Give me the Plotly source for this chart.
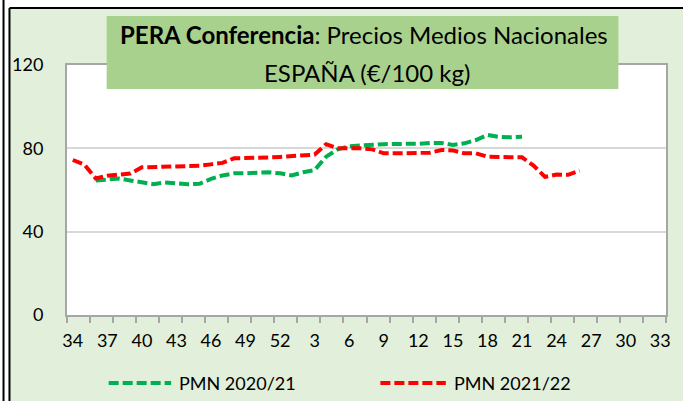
import plotly.graph_objects as go

# ---------------- data ----------------
weeks = ["34", "35", "36", "37", "38", "39", "40", "41", "42", "43", "44", "45", "46",
         "47", "48", "49", "50", "51", "52", "1", "2", "3", "4", "5", "6", "7", "8", "9",
         "10", "11", "12", "13", "14", "15", "16", "17", "18", "19", "20", "21", "22",
         "23", "24", "25", "26", "27", "28", "29", "30", "31", "32", "33"]

pmn_2020_21 = [None, None, 64.5, 65.1, 65.5, 64.6, 63.7, 62.8, 63.6, 63.2, 62.8, 63.0, 65.3,
               67.0, 68.0, 68.0, 68.3, 68.5, 68.0, 67.0, 68.5, 69.6, 76.0, 79.5, 81.0, 81.4,
               81.5, 82.0, 82.1, 82.1, 82.2, 82.6, 82.6, 81.6, 82.4, 84.0, 86.4, 85.5, 85.3,
               85.6, None, None, None, None, None, None, None, None, None, None, None, None]

pmn_2021_22 = [74.4, 72.2, 65.5, 66.8, 67.4, 67.9, 70.9, 71.1, 71.2, 71.3, 71.4, 71.6, 72.3,
               73.0, 75.2, 75.2, 75.4, 75.6, 75.9, 76.2, 76.4, 77.0, 82.0, 80.0, 80.0, 80.0,
               79.5, 77.6, 77.6, 77.6, 77.6, 77.9, 79.2, 79.0, 77.6, 77.6, 76.0, 75.7, 75.7,
               75.7, 71.7, 66.3, 67.4, 67.3, 69.3, None, None, None, None, None, None, None]

tick_labels = ["34", "37", "40", "43", "46", "49", "52", "3", "6", "9", "12", "15", "18",
               "21", "24", "27", "30", "33"]
y_ticks = [0, 40, 80, 120]

series_names = ["PMN 2020/21", "PMN 2021/22"]
series_colors = ["#00B050", "#FF0000"]
series_values = [pmn_2020_21, pmn_2021_22]

title_line1 = "<b>PERA Conferencia</b>: Precios Medios Nacionales"
title_line2 = "ESPAÑA (€/100 kg)"

# ---------------- layout helpers ----------------
W, H = 683, 401
L, R, T, B = 66, 13, 65, 86
PW = W - L - R
PH = H - T - B
FONT = "Lato"
DASH = "10px,4px"
LW = 4


def px(x):
    return (x - L) / PW


def py(y):
    return (H - B - y) / PH


x_idx = list(range(len(weeks)))
tickvals = [weeks.index(t) for t in tick_labels]

fig = go.Figure()
for name, color, vals in zip(series_names, series_colors, series_values):
    fig.add_trace(go.Scatter(x=x_idx, y=vals, mode="lines", name=name,
                             line=dict(color=color, width=LW, dash=DASH),
                             connectgaps=False, showlegend=False, hoverinfo="skip"))

shapes = [
    # white outer strips
    dict(type="rect", xref="paper", yref="paper", x0=px(-5), x1=px(8), y0=py(H + 5), y1=py(-5),
         fillcolor="white", line=dict(width=0), layer="below"),
    dict(type="rect", xref="paper", yref="paper", x0=px(-5), x1=px(W + 5), y0=py(8), y1=py(-5),
         fillcolor="white", line=dict(width=0), layer="below"),
    # borders
    dict(type="line", xref="paper", yref="paper", x0=px(2), x1=px(2), y0=py(H + 5), y1=py(-5),
         line=dict(color="black", width=2), layer="below"),
    dict(type="line", xref="paper", yref="paper", x0=px(8), x1=px(8), y0=py(H + 5), y1=py(8),
         line=dict(color="black", width=2), layer="below"),
    dict(type="line", xref="paper", yref="paper", x0=px(8), x1=px(W + 5), y0=py(8), y1=py(8),
         line=dict(color="black", width=2), layer="below"),
    # title box
    dict(type="rect", xref="paper", yref="paper", x0=px(106), x1=px(622), y0=py(89), y1=py(16),
         fillcolor="#A9D18E", line=dict(width=0), layer="above"),
]

annotations = [
    dict(xref="paper", yref="paper", x=px(365), y=py(35), text=title_line1, showarrow=False,
         xanchor="center", yanchor="middle", font=dict(family=FONT, size=24, color="black")),
    dict(xref="paper", yref="paper", x=px(368), y=py(72), text=title_line2, showarrow=False,
         xanchor="center", yanchor="middle", font=dict(family=FONT, size=24, color="black")),
]

# custom legend
legend_pos = [(108, 171, 177), (382, 448, 454)]
for (x0, x1, xt), name, color in zip(legend_pos, series_names, series_colors):
    shapes.append(dict(type="line", xref="paper", yref="paper", x0=px(x0), x1=px(x1),
                       y0=py(383), y1=py(383), line=dict(color=color, width=LW, dash=DASH)))
    annotations.append(dict(xref="paper", yref="paper", x=px(xt), y=py(383), text=name,
                            showarrow=False, xanchor="left", yanchor="middle",
                            font=dict(family=FONT, size=18, color="black")))

fig.update_layout(
    width=W, height=H,
    margin=dict(l=L, r=R, t=T, b=B, pad=0),
    paper_bgcolor="#E2EFDA",
    plot_bgcolor="white",
    showlegend=False,
    shapes=shapes,
    annotations=annotations,
    font=dict(family=FONT, size=18, color="black"),
)

fig.update_xaxes(
    range=[-0.5, len(weeks) - 0.5],
    tickmode="array", tickvals=tickvals, ticktext=tick_labels,
    ticks="", showgrid=False, zeroline=False,
    showline=True, linecolor="#A6A6A6", linewidth=2, mirror=True,
    ticklabelstandoff=8,
    tickfont=dict(family=FONT, size=18, color="black"),
    minor=dict(ticks="outside", tick0=-0.5, dtick=2, ticklen=6, tickcolor="#A6A6A6",
               tickwidth=1.5, showgrid=False),
)
fig.update_yaxes(
    range=[0, 120], tickmode="array", tickvals=y_ticks,
    ticks="", showgrid=True, gridcolor="#D9D9D9", gridwidth=1.5, zeroline=False,
    showline=True, linecolor="#A6A6A6", linewidth=2, mirror=True,
    ticklabelstandoff=18,
    tickfont=dict(family=FONT, size=18, color="black"),
)

fig.write_html("out.html", config={"displayModeBar": False},
               post_script="document.body.style.margin='0';document.body.style.overflow='hidden';")
